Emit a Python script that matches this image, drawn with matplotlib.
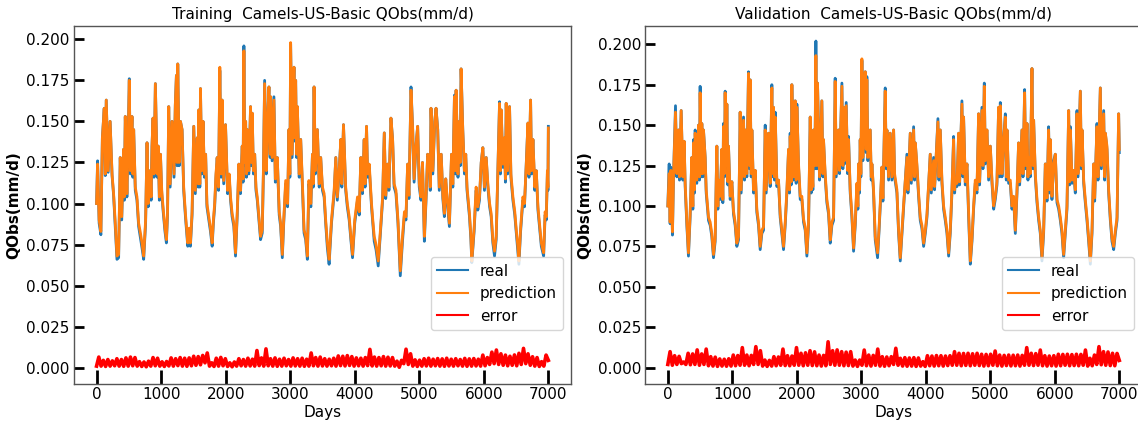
import numpy as np
import matplotlib
matplotlib.use("Agg")
import matplotlib.pyplot as plt

# ---------------- data ----------------
train_days = [
    0, 16, 40, 67, 90, 119, 135, 150, 180, 210,
    240, 264, 290, 316, 342, 367, 390, 419, 430, 445,
    470, 490, 507, 523, 549, 562, 575, 600, 626, 652,
    680, 704, 730, 760, 782, 800, 830, 845, 859, 875,
    890, 911, 940, 955, 973, 990, 1010, 1030, 1060, 1082,
    1100, 1118, 1140, 1170, 1200, 1220, 1237, 1248, 1258, 1280,
    1300, 1325, 1350, 1377, 1395, 1413, 1435, 1454, 1480, 1506,
    1530, 1560, 1575, 1584, 1600, 1610, 1630, 1650, 1670, 1690,
    1710, 1739, 1765, 1791, 1810, 1830, 1850, 1869, 1890, 1910,
    1930, 1946, 1970, 1998, 2030, 2055, 2076, 2100, 2127, 2153,
    2180, 2205, 2230, 2257, 2270, 2283, 2296, 2310, 2322, 2334,
    2360, 2386, 2400, 2412, 2430, 2450, 2470, 2490, 2520, 2541,
    2567, 2585, 2604, 2630, 2650, 2671, 2690, 2697, 2720, 2748,
    2770, 2800, 2830, 2852, 2878, 2900, 2930, 2960, 2981, 2995,
    3007, 3030, 3059, 3070, 3085, 3100, 3111, 3140, 3163, 3190,
    3215, 3240, 3266, 3290, 3320, 3345, 3358, 3370, 3390, 3421,
    3450, 3473, 3500, 3526, 3550, 3576, 3603, 3640, 3681, 3707,
    3730, 3759, 3785, 3800, 3826, 3860, 3885, 3914, 3940, 3966,
    4000, 4043, 4070, 4095, 4120, 4147, 4160, 4183, 4200, 4225,
    4260, 4280, 4302, 4330, 4364, 4400, 4432, 4458, 4480, 4509,
    4530, 4561, 4587, 4610, 4639, 4670, 4706, 4740, 4770, 4794,
    4820, 4840, 4872, 4898, 4920, 4949, 4975, 5000, 5027, 5050,
    5079, 5105, 5130, 5157, 5170, 5182, 5210, 5240, 5260, 5286,
    5310, 5340, 5365, 5389, 5410, 5431, 5467, 5500, 5520, 5545,
    5560, 5571, 5600, 5620, 5635, 5648, 5674, 5700, 5720, 5740,
    5778, 5800, 5814, 5850, 5881, 5907, 5933, 5960, 5985, 6010,
    6037, 6063, 6090, 6114, 6140, 6166, 6192, 6220, 6244, 6258,
    6270, 6295, 6320, 6335, 6347, 6370, 6399, 6420, 6451, 6480,
    6503, 6525, 6544, 6570, 6606, 6630, 6658, 6684, 6700, 6725,
    6740, 6761, 6790, 6813, 6839, 6870, 6891, 6927, 6950, 6968,
    6985, 6994, 7000,
]
train_pred = [
    .100, .124, .090, .083, .140, .158, .118, .163, .120, .150,
    .118, .106, .088, .068, .069, .128, .092, .133, .104, .153,
    .106, .140, .175, .120, .153, .118, .145, .110, .104, .088,
    .082, .076, .068, .090, .137, .100, .120, .104, .135, .152,
    .118, .173, .118, .135, .104, .130, .108, .098, .085, .078,
    .095, .159, .112, .150, .118, .160, .178, .125, .185, .125,
    .150, .145, .110, .094, .085, .076, .085, .076, .095, .147,
    .108, .140, .112, .157, .112, .170, .120, .150, .118, .130,
    .100, .092, .085, .076, .090, .100, .118, .128, .110, .183,
    .118, .163, .114, .148, .108, .118, .104, .094, .088, .070,
    .095, .124, .108, .135, .115, .193, .125, .150, .118, .145,
    .120, .159, .125, .155, .120, .130, .110, .104, .090, .080,
    .084, .120, .173, .120, .150, .171, .130, .165, .128, .163,
    .115, .128, .095, .088, .069, .090, .114, .100, .145, .118,
    .198, .130, .183, .140, .175, .130, .159, .118, .139, .112,
    .084, .080, .068, .114, .100, .130, .112, .171, .120, .145,
    .112, .128, .110, .106, .090, .076, .066, .090, .108, .128,
    .104, .120, .139, .112, .148, .110, .100, .092, .080, .069,
    .090, .104, .095, .128, .108, .139, .112, .147, .118, .124,
    .100, .090, .080, .075, .065, .085, .104, .143, .105, .124,
    .110, .152, .139, .112, .108, .090, .059, .080, .095, .092,
    .124, .105, .169, .145, .115, .135, .147, .112, .104, .125,
    .080, .104, .130, .128, .110, .158, .120, .150, .158, .145,
    .110, .130, .105, .094, .115, .104, .088, .130, .112, .165,
    .120, .169, .118, .150, .125, .182, .145, .120, .130, .110,
    .094, .080, .065, .085, .110, .098, .104, .125, .134, .110,
    .128, .112, .100, .094, .078, .071, .080, .125, .161, .120,
    .157, .124, .140, .115, .161, .120, .159, .118, .104, .095,
    .084, .075, .065, .085, .104, .100, .124, .149, .118, .163,
    .120, .139, .110, .120, .098, .085, .076, .070, .095, .092,
    .120, .110, .146,
]
train_real = [
    .100, .126, .088, .081, .140, .158, .117, .163, .119, .150,
    .117, .105, .086, .066, .067, .128, .090, .133, .102, .153,
    .104, .140, .176, .118, .153, .116, .145, .108, .102, .086,
    .079, .073, .066, .088, .137, .098, .120, .102, .135, .152,
    .116, .173, .116, .135, .102, .130, .106, .096, .083, .076,
    .093, .159, .110, .150, .116, .160, .178, .123, .185, .123,
    .150, .145, .108, .092, .083, .074, .083, .074, .093, .147,
    .106, .140, .110, .157, .110, .170, .118, .150, .116, .130,
    .098, .090, .083, .074, .088, .098, .116, .128, .108, .181,
    .116, .163, .112, .148, .106, .116, .102, .092, .086, .068,
    .093, .124, .106, .135, .113, .196, .123, .150, .116, .145,
    .118, .159, .123, .155, .118, .130, .108, .102, .088, .078,
    .082, .118, .175, .118, .150, .171, .128, .165, .126, .165,
    .113, .128, .093, .086, .067, .088, .112, .098, .145, .116,
    .197, .128, .183, .138, .175, .128, .159, .116, .139, .110,
    .082, .078, .066, .112, .098, .130, .110, .171, .118, .145,
    .110, .128, .108, .104, .088, .073, .063, .088, .106, .128,
    .102, .120, .139, .110, .148, .108, .098, .090, .078, .067,
    .088, .102, .093, .128, .106, .139, .110, .147, .116, .122,
    .098, .088, .077, .072, .062, .083, .102, .143, .103, .124,
    .108, .152, .139, .110, .106, .088, .056, .077, .093, .090,
    .124, .103, .171, .145, .113, .135, .147, .110, .102, .125,
    .077, .102, .130, .126, .108, .158, .118, .150, .158, .145,
    .108, .130, .103, .092, .115, .102, .086, .130, .110, .166,
    .118, .169, .116, .150, .123, .182, .145, .118, .130, .108,
    .092, .078, .064, .083, .108, .096, .102, .125, .134, .108,
    .128, .110, .098, .092, .076, .068, .078, .123, .162, .118,
    .157, .122, .140, .113, .161, .118, .159, .116, .102, .093,
    .082, .072, .063, .083, .102, .098, .124, .149, .116, .163,
    .118, .139, .108, .120, .096, .083, .074, .068, .093, .090,
    .118, .108, .147,
]
train_err = [
    .0010, .0065, .0010, .0045, .0008, .0050, .0010, .0042, .0012, .0055,
    .0010, .0050, .0009, .0060, .0010, .0065, .0012, .0062, .0010, .0037,
    .0008, .0035, .0006, .0040, .0010, .0062, .0012, .0058, .0010, .0036,
    .0008, .0038, .0011, .0060, .0010, .0055, .0013, .0062, .0010, .0058,
    .0009, .0060, .0012, .0070, .0015, .0068, .0018, .0075, .0030, .0090,
    .0010, .0030, .0008, .0058, .0010, .0063, .0012, .0055, .0008, .0030,
    .0006, .0035, .0010, .0055, .0012, .0050, .0010, .0058, .0011, .0052,
    .0010, .0105, .0013, .0060, .0010, .0115, .0012, .0055, .0010, .0060,
    .0009, .0052, .0010, .0058, .0012, .0050, .0010, .0060, .0011, .0055,
    .0010, .0058, .0009, .0052, .0010, .0090, .0012, .0062, .0010, .0065,
    .0011, .0055, .0010, .0052, .0012, .0058, .0010, .0072, .0013, .0070,
    .0011, .0074, .0014, .0068, .0010, .0060, .0012, .0058, .0010, .0062,
    .0013, .0112, .0011, .0065, .0010, .0062, .0012, .0068, .0010, .0064,
    .0011, .0062, .0010, .0040, .0003, .0045, .0025, .0113, .0020, .0085,
    .0010, .0048, .0008, .0046, .0010, .0055, .0011, .0058, .0010, .0052,
    .0012, .0056, .0010, .0054, .0009, .0058, .0011, .0052, .0010, .0055,
    .0012, .0050, .0010, .0057, .0009, .0054, .0010, .0056, .0011, .0052,
    .0010, .0077, .0012, .0062, .0020, .0095, .0025, .0108, .0020, .0085,
    .0015, .0077, .0012, .0070, .0015, .0078, .0012, .0088, .0020, .0118,
    .0025, .0085, .0015, .0067, .0010, .0062, .0008, .0037, .0010, .0077,
    .0045,
]

val_days = [
    0, 21, 36, 47, 72, 88, 119, 140, 165, 181,
    207, 233, 253, 269, 295, 320, 346, 372, 388, 398,
    414, 424, 450, 476, 491, 501, 517, 527, 543, 553,
    579, 595, 631, 657, 682, 708, 734, 760, 776, 786,
    812, 838, 853, 863, 879, 889, 905, 915, 931, 941,
    967, 993, 1018, 1044, 1070, 1096, 1122, 1137, 1174, 1189,
    1199, 1225, 1251, 1267, 1277, 1293, 1303, 1329, 1355, 1380,
    1406, 1432, 1458, 1484, 1510, 1525, 1561, 1587, 1613, 1629,
    1639, 1654, 1665, 1691, 1716, 1742, 1768, 1794, 1820, 1846,
    1872, 1887, 1897, 1913, 1923, 1949, 1975, 1990, 2001, 2027,
    2053, 2078, 2104, 2130, 2156, 2182, 2208, 2223, 2234, 2249,
    2259, 2280, 2296, 2311, 2321, 2337, 2352, 2388, 2404, 2414,
    2440, 2466, 2492, 2518, 2544, 2570, 2595, 2611, 2647, 2663,
    2699, 2714, 2725, 2740, 2766, 2787, 2802, 2828, 2854, 2880,
    2906, 2931, 2947, 2957, 2973, 2983, 2993, 3009, 3024, 3045,
    3061, 3076, 3086, 3102, 3138, 3154, 3164, 3190, 3216, 3252,
    3273, 3293, 3319, 3335, 3371, 3386, 3397, 3423, 3448, 3474,
    3501, 3516, 3552, 3578, 3604, 3630, 3656, 3707, 3723, 3759,
    3775, 3811, 3826, 3837, 3862, 3888, 3914, 3940, 3966, 3992,
    4018, 4069, 4085, 4121, 4136, 4188, 4204, 4224, 4250, 4276,
    4302, 4328, 4354, 4379, 4405, 4431, 4447, 4457, 4483, 4509,
    4524, 4560, 4576, 4586, 4612, 4638, 4664, 4690, 4716, 4741,
    4767, 4793, 4819, 4834, 4870, 4886, 4907, 4922, 4948, 4974,
    5000, 5026, 5052, 5077, 5103, 5129, 5145, 5155, 5181, 5207,
    5233, 5248, 5259, 5284, 5310, 5336, 5362, 5388, 5414, 5439,
    5455, 5491, 5507, 5532, 5548, 5569, 5584, 5594, 5620, 5646,
    5662, 5672, 5698, 5724, 5750, 5775, 5801, 5827, 5853, 5879,
    5904, 5920, 5930, 5956, 5982, 6008, 6034, 6060, 6086, 6111,
    6137, 6163, 6189, 6215, 6230, 6241, 6267, 6292, 6318, 6344,
    6360, 6396, 6411, 6422, 6448, 6473, 6499, 6525, 6551, 6577,
    6603, 6618, 6654, 6670, 6706, 6722, 6758, 6773, 6784, 6809,
    6835, 6861, 6887, 6913, 6939, 6965, 6990, 7000,
]
val_pred = [
    .100, .120, .090, .122, .084, .118, .158, .120, .147, .118,
    .159, .118, .140, .114, .090, .071, .095, .130, .100, .139,
    .110, .145, .116, .150, .118, .170, .120, .151, .120, .147,
    .130, .110, .093, .090, .083, .070, .080, .137, .100, .116,
    .106, .135, .104, .149, .120, .170, .125, .163, .115, .137,
    .106, .115, .097, .090, .077, .081, .158, .110, .153, .118,
    .147, .120, .182, .125, .178, .120, .147, .110, .122, .098,
    .090, .075, .085, .087, .147, .110, .145, .114, .173, .120,
    .161, .118, .155, .114, .116, .095, .085, .075, .090, .110,
    .135, .110, .143, .115, .175, .118, .165, .116, .161, .126,
    .106, .106, .092, .087, .071, .090, .155, .110, .126, .112,
    .147, .125, .193, .125, .176, .147, .118, .165, .120, .141,
    .120, .104, .097, .079, .090, .093, .177, .120, .147, .122,
    .174, .125, .161, .128, .162, .122, .141, .110, .095, .074,
    .090, .114, .100, .126, .110, .141, .120, .191, .130, .170,
    .183, .135, .178, .130, .147, .118, .126, .110, .081, .071,
    .085, .101, .124, .105, .171, .125, .147, .118, .145, .118,
    .147, .120, .110, .085, .068, .085, .101, .130, .110, .145,
    .116, .147, .118, .139, .126, .108, .093, .088, .077, .085,
    .095, .132, .110, .128, .112, .152, .118, .147, .116, .100,
    .093, .085, .071, .085, .110, .141, .110, .116, .114, .145,
    .115, .163, .120, .155, .115, .126, .095, .066, .080, .100,
    .116, .110, .157, .115, .159, .125, .174, .128, .147, .118,
    .137, .116, .100, .106, .115, .161, .120, .162, .120, .141,
    .155, .118, .147, .116, .116, .100, .106, .085, .110, .139,
    .115, .147, .120, .170, .125, .151, .118, .130, .120, .185,
    .125, .153, .120, .104, .093, .085, .068, .085, .126, .105,
    .147, .110, .141, .106, .126, .132, .104, .100, .093, .085,
    .070, .085, .100, .159, .115, .147, .116, .122, .110, .157,
    .120, .171, .125, .147, .116, .104, .093, .080, .066, .085,
    .126, .105, .149, .118, .173, .125, .157, .118, .145, .137,
    .110, .093, .080, .075, .085, .093, .157, .135,
]
val_real = [
    .100, .126, .089, .124, .082, .118, .162, .118, .147, .116,
    .159, .116, .140, .112, .088, .069, .093, .130, .098, .141,
    .108, .147, .114, .150, .116, .174, .118, .151, .118, .147,
    .130, .108, .091, .088, .081, .068, .078, .137, .098, .116,
    .104, .135, .102, .151, .118, .171, .123, .163, .113, .137,
    .104, .115, .095, .088, .075, .079, .158, .108, .155, .116,
    .147, .118, .183, .123, .178, .118, .147, .108, .122, .096,
    .088, .073, .083, .085, .150, .108, .145, .112, .175, .118,
    .161, .116, .158, .112, .116, .093, .083, .073, .088, .108,
    .135, .108, .145, .113, .175, .116, .165, .114, .163, .124,
    .104, .104, .090, .085, .069, .088, .155, .108, .128, .110,
    .147, .123, .202, .123, .176, .147, .116, .165, .118, .141,
    .118, .102, .095, .077, .088, .091, .179, .118, .147, .120,
    .176, .123, .161, .126, .164, .120, .143, .108, .093, .072,
    .088, .112, .098, .126, .108, .141, .118, .190, .128, .170,
    .183, .133, .180, .128, .147, .116, .126, .108, .079, .068,
    .083, .099, .124, .103, .173, .123, .147, .116, .145, .116,
    .147, .118, .108, .083, .066, .083, .099, .132, .108, .145,
    .114, .149, .116, .139, .124, .106, .091, .086, .075, .083,
    .093, .132, .108, .130, .110, .154, .116, .147, .114, .098,
    .091, .083, .069, .083, .108, .143, .108, .116, .112, .145,
    .113, .165, .118, .155, .113, .126, .093, .064, .078, .098,
    .114, .108, .157, .113, .161, .123, .176, .126, .147, .116,
    .137, .114, .098, .104, .113, .161, .118, .164, .118, .141,
    .157, .116, .147, .114, .114, .098, .104, .083, .108, .139,
    .113, .147, .118, .172, .123, .151, .116, .130, .118, .185,
    .123, .153, .118, .102, .091, .083, .066, .083, .126, .103,
    .149, .108, .141, .104, .128, .132, .102, .098, .091, .083,
    .068, .083, .098, .159, .113, .149, .114, .122, .108, .159,
    .118, .171, .123, .147, .114, .102, .091, .078, .064, .083,
    .126, .103, .151, .116, .173, .123, .159, .116, .145, .135,
    .108, .091, .078, .073, .083, .091, .157, .133,
]
val_err = [
    .0020, .0099, .0015, .0074, .0020, .0070, .0025, .0035, .0020, .0089,
    .0018, .0085, .0020, .0110, .0015, .0085, .0020, .0115, .0012, .0068,
    .0010, .0065, .0008, .0054, .0010, .0052, .0009, .0055, .0010, .0078,
    .0012, .0075, .0015, .0124, .0015, .0078, .0012, .0076, .0020, .0130,
    .0020, .0105, .0010, .0047, .0008, .0045, .0010, .0068, .0012, .0066,
    .0015, .0115, .0013, .0074, .0012, .0072, .0015, .0124, .0015, .0089,
    .0012, .0092, .0015, .0105, .0013, .0098, .0012, .0078, .0010, .0076,
    .0012, .0160, .0020, .0105, .0015, .0110, .0015, .0099, .0012, .0096,
    .0013, .0099, .0010, .0047, .0008, .0047, .0015, .0109, .0012, .0078,
    .0010, .0076, .0015, .0115, .0010, .0068, .0009, .0066, .0012, .0068,
    .0020, .0120, .0015, .0058, .0010, .0062, .0009, .0060, .0010, .0062,
    .0008, .0060, .0010, .0037, .0008, .0074, .0012, .0072, .0010, .0075,
    .0012, .0074, .0010, .0072, .0013, .0074, .0015, .0099, .0015, .0089,
    .0012, .0088, .0014, .0089, .0012, .0086, .0015, .0089, .0013, .0083,
    .0010, .0082, .0012, .0083, .0015, .0103, .0012, .0078, .0010, .0076,
    .0013, .0078, .0011, .0077, .0012, .0078, .0010, .0076, .0015, .0124,
    .0015, .0089, .0013, .0087, .0015, .0109, .0012, .0074, .0010, .0072,
    .0012, .0074, .0010, .0083, .0012, .0082, .0015, .0083, .0012, .0081,
    .0013, .0083, .0012, .0082, .0015, .0109, .0010, .0058, .0012, .0078,
    .0020, .0130, .0018, .0099, .0015, .0097, .0013, .0089, .0012, .0088,
    .0045,
]
err_step = 35
err_days = np.arange(len(train_err)) * err_step

panel_titles = ["Training  Camels-US-Basic QObs(mm/d)",
                "Validation  Camels-US-Basic QObs(mm/d)"]
legend_labels = ["real", "prediction", "error"]
x_ticks = [0, 1000, 2000, 3000, 4000, 5000, 6000, 7000]
y_ticks = [0.000, 0.025, 0.050, 0.075, 0.100, 0.125, 0.150, 0.175, 0.200]

# ---------------- figure ----------------
fig = plt.figure(figsize=(11.38, 4.23), dpi=100)
ax1 = fig.add_axes([0.0650, 0.0922, 0.4367, 0.8471])
ax2 = fig.add_axes([0.5670, 0.0922, 0.4364, 0.8471])

panels = [
    (ax1, train_days, train_real, train_pred, train_err, (-0.0099, 0.2083)),
    (ax2, val_days, val_real, val_pred, val_err, (-0.0101, 0.2115)),
]

for (ax, days, real, pred, err, ylim), title in zip(panels, panel_titles):
    ax.plot(days, real, color="#1f77b4", lw=2.0, label=legend_labels[0])
    ax.plot(days, pred, color="#ff7f0e", lw=2.0, label=legend_labels[1])
    ax.plot(err_days, err, color="red", lw=2.6, label=legend_labels[2])
    ax.set_xlim(-350, 7350)
    ax.set_ylim(*ylim)
    ax.set_xticks(x_ticks)
    ax.set_yticks(y_ticks)
    ax.set_yticklabels([f"{v:.3f}" for v in y_ticks])
    ax.set_title(title, fontsize=11, pad=5)
    ax.set_xlabel("Days", fontsize=11, labelpad=2)
    ax.set_ylabel("QObs(mm/d)", fontsize=11, fontweight="bold")
    ax.tick_params(axis="x", direction="in", length=10, width=2,
                   color="black", labelsize=11, pad=2.5)
    ax.tick_params(axis="y", direction="in", length=7, width=2,
                   color="black", labelsize=11, pad=3)
    for sp in ax.spines.values():
        sp.set_color("#555555")
        sp.set_linewidth(1.0)
    leg = ax.legend(loc="lower right", bbox_to_anchor=(0.984, 0.151),
                    borderaxespad=0, fontsize=11)
    for h in leg.get_lines():
        h.set_linewidth(1.5)

fig.savefig("out.png", dpi=100)
